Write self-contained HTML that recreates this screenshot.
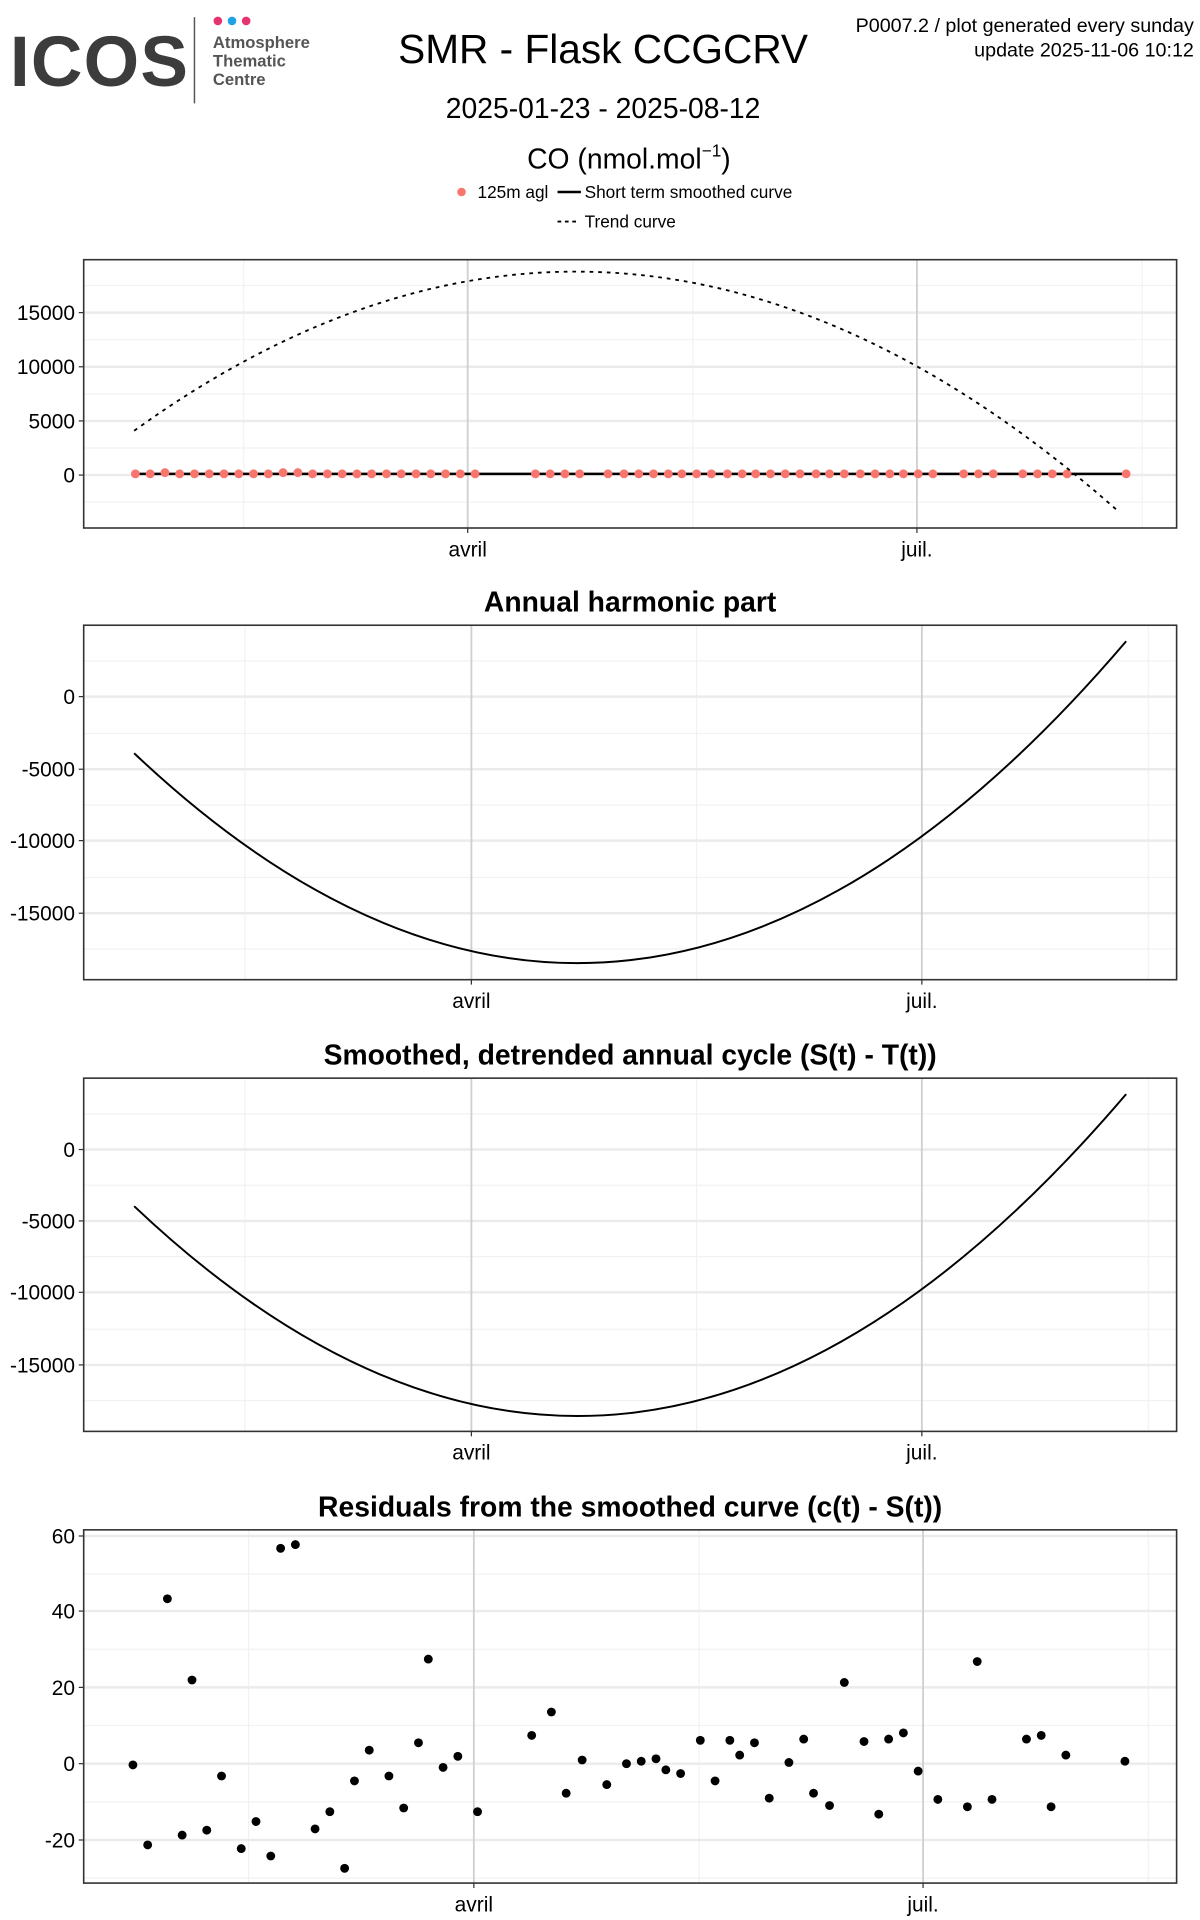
<!DOCTYPE html>
<html><head><meta charset="utf-8"><style>
html,body{margin:0;padding:0;background:#fff}
svg{display:block}
text{font-family:"Liberation Sans",Arial,sans-serif}
</style></head><body>
<svg width="1200" height="1920" viewBox="0 0 975 1560" xmlns="http://www.w3.org/2000/svg">
<!-- header -->
<text x="8" y="70" font-size="58" font-weight="bold" fill="#3c3c3c" letter-spacing="1">ICOS</text>
<line x1="158" y1="14" x2="158" y2="84" stroke="#555" stroke-width="1.2"/>
<circle cx="177" cy="17" r="3.5" fill="#e6336f"/><circle cx="188.5" cy="17" r="3.5" fill="#1fa3e6"/><circle cx="200" cy="17" r="3.5" fill="#e6336f"/>
<text x="173" y="39" font-size="13.5" font-weight="bold" fill="#555">Atmosphere</text>
<text x="173" y="54" font-size="13.5" font-weight="bold" fill="#555">Thematic</text>
<text x="173" y="69" font-size="13.5" font-weight="bold" fill="#555">Centre</text>
<text x="490" y="51" font-size="33" text-anchor="middle">SMR - Flask CCGCRV</text>
<text x="490" y="96" font-size="23" text-anchor="middle">2025-01-23 - 2025-08-12</text>
<text x="511" y="137" font-size="23" text-anchor="middle">CO (nmol.mol<tspan font-size="14" dy="-10">−1</tspan><tspan dy="10">)</tspan></text>
<text x="970" y="26" font-size="16" text-anchor="end">P0007.2 / plot generated every sunday</text>
<text x="970" y="46" font-size="16" text-anchor="end">update  2025-11-06 10:12</text>
<circle cx="375" cy="156" r="3.5" fill="#f8766d"/>
<text x="388" y="161" font-size="14">125m agl</text>
<line x1="453" y1="156" x2="472" y2="156" stroke="#000" stroke-width="2"/>
<text x="475" y="161" font-size="14">Short term smoothed curve</text>
<line x1="453" y1="180" x2="471" y2="180" stroke="#000" stroke-width="1.5" stroke-dasharray="3,3"/>
<text x="475" y="185" font-size="14">Trend curve</text>

<!-- Panel 1 -->
<g>
<rect x="68" y="211" width="888" height="218" fill="#fff"/>
<g stroke="#f2f2f2" stroke-width="1"><line x1="68" x2="956" y1="232" y2="232"/><line x1="68" x2="956" y1="276" y2="276"/><line x1="68" x2="956" y1="320" y2="320"/><line x1="68" x2="956" y1="364" y2="364"/><line x1="68" x2="956" y1="408" y2="408"/><line x1="198" x2="198" y1="211" y2="429"/><line x1="563" x2="563" y1="211" y2="429"/><line x1="928" x2="928" y1="211" y2="429"/></g>
<g stroke="#ebebeb" stroke-width="2"><line x1="68" x2="956" y1="254" y2="254"/><line x1="68" x2="956" y1="298" y2="298"/><line x1="68" x2="956" y1="342" y2="342"/><line x1="68" x2="956" y1="386" y2="386"/></g>
<g stroke="#d0d0d0" stroke-width="1.5"><line x1="380" x2="380" y1="211" y2="429"/><line x1="745" x2="745" y1="211" y2="429"/></g>
<line x1="109" y1="385" x2="915" y2="385" stroke="#000" stroke-width="2"/>
<g fill="#f8766d">
<circle cx="110" cy="385" r="3.6"/><circle cx="122" cy="385" r="3.6"/><circle cx="134" cy="384" r="3.6"/><circle cx="146" cy="385" r="3.6"/><circle cx="158" cy="385" r="3.6"/><circle cx="170" cy="385" r="3.6"/><circle cx="182" cy="385" r="3.6"/><circle cx="194" cy="385" r="3.6"/><circle cx="206" cy="385" r="3.6"/><circle cx="218" cy="385" r="3.6"/><circle cx="230" cy="384" r="3.6"/><circle cx="242" cy="384" r="3.6"/><circle cx="254" cy="385" r="3.6"/><circle cx="266" cy="385" r="3.6"/><circle cx="278" cy="385" r="3.6"/><circle cx="290" cy="385" r="3.6"/><circle cx="302" cy="385" r="3.6"/><circle cx="314" cy="385" r="3.6"/><circle cx="326" cy="385" r="3.6"/><circle cx="338" cy="385" r="3.6"/><circle cx="350" cy="385" r="3.6"/><circle cx="362" cy="385" r="3.6"/><circle cx="374" cy="385" r="3.6"/><circle cx="386" cy="385" r="3.6"/>
<circle cx="435" cy="385" r="3.6"/><circle cx="447" cy="385" r="3.6"/><circle cx="459" cy="385" r="3.6"/><circle cx="471" cy="385" r="3.6"/>
<circle cx="494" cy="385" r="3.6"/><circle cx="507" cy="385" r="3.6"/><circle cx="519" cy="385" r="3.6"/><circle cx="531" cy="385" r="3.6"/><circle cx="543" cy="385" r="3.6"/><circle cx="554" cy="385" r="3.6"/><circle cx="566" cy="385" r="3.6"/><circle cx="578" cy="385" r="3.6"/><circle cx="591" cy="385" r="3.6"/><circle cx="603" cy="385" r="3.6"/><circle cx="614" cy="385" r="3.6"/><circle cx="626" cy="385" r="3.6"/><circle cx="638" cy="385" r="3.6"/><circle cx="650" cy="385" r="3.6"/><circle cx="663" cy="385" r="3.6"/><circle cx="674" cy="385" r="3.6"/><circle cx="686" cy="385" r="3.6"/><circle cx="699" cy="385" r="3.6"/><circle cx="711" cy="385" r="3.6"/><circle cx="723" cy="385" r="3.6"/><circle cx="734" cy="385" r="3.6"/><circle cx="746" cy="385" r="3.6"/><circle cx="758" cy="385" r="3.6"/>
<circle cx="783" cy="385" r="3.6"/><circle cx="795" cy="385" r="3.6"/><circle cx="807" cy="385" r="3.6"/>
<circle cx="831" cy="385" r="3.6"/><circle cx="843" cy="385" r="3.6"/><circle cx="855" cy="385" r="3.6"/><circle cx="867" cy="385" r="3.6"/>
<circle cx="915" cy="385" r="3.6"/>
</g>
<path d="M109,350 Q508,62.6 907,414" fill="none" stroke="#000" stroke-width="1.5" stroke-dasharray="3,4"/>
<rect x="68" y="211" width="888" height="218" fill="none" stroke="#333" stroke-width="1.3"/>
<g stroke="#333"><line x1="64" x2="68" y1="254" y2="254"/><line x1="64" x2="68" y1="298" y2="298"/><line x1="64" x2="68" y1="342" y2="342"/><line x1="64" x2="68" y1="386" y2="386"/><line x1="380" x2="380" y1="429" y2="433"/><line x1="745" x2="745" y1="429" y2="433"/></g>
<g font-size="17" text-anchor="end"><text x="61" y="260">15000</text><text x="61" y="304">10000</text><text x="61" y="348">5000</text><text x="61" y="392">0</text></g>
<g font-size="17" text-anchor="middle"><text x="380" y="452">avril</text><text x="745" y="452">juil.</text></g>
</g>

<!-- Panel 2 -->
<text x="512" y="497" font-size="23" font-weight="bold" text-anchor="middle">Annual harmonic part</text>
<g stroke="#f2f2f2"><line x1="68" x2="956" y1="537" y2="537"/><line x1="68" x2="956" y1="596" y2="596"/><line x1="68" x2="956" y1="654" y2="654"/><line x1="68" x2="956" y1="713" y2="713"/><line x1="68" x2="956" y1="771" y2="771"/><line x1="199" x2="199" y1="508" y2="796"/><line x1="566" x2="566" y1="508" y2="796"/><line x1="933" x2="933" y1="508" y2="796"/></g>
<g stroke="#ebebeb" stroke-width="2"><line x1="68" x2="956" y1="566" y2="566"/><line x1="68" x2="956" y1="625" y2="625"/><line x1="68" x2="956" y1="683" y2="683"/><line x1="68" x2="956" y1="742" y2="742"/></g>
<g stroke="#d0d0d0" stroke-width="1.5"><line x1="383" x2="383" y1="508" y2="796"/><line x1="749" x2="749" y1="508" y2="796"/></g>
<path d="M109,612 Q512,993.7 915,521" fill="none" stroke="#000" stroke-width="1.6"/>
<rect x="68" y="508" width="888" height="288" fill="none" stroke="#333" stroke-width="1.3"/>
<g stroke="#333"><line x1="64" x2="68" y1="566" y2="566"/><line x1="64" x2="68" y1="625" y2="625"/><line x1="64" x2="68" y1="683" y2="683"/><line x1="64" x2="68" y1="742" y2="742"/><line x1="383" x2="383" y1="796" y2="800"/><line x1="749" x2="749" y1="796" y2="800"/></g>
<g font-size="17" text-anchor="end"><text x="61" y="572">0</text><text x="61" y="631">-5000</text><text x="61" y="689">-10000</text><text x="61" y="748">-15000</text></g>
<g font-size="17" text-anchor="middle"><text x="383" y="819">avril</text><text x="749" y="819">juil.</text></g>

<!-- Panel 3 -->
<text x="512" y="865" font-size="23" font-weight="bold" text-anchor="middle">Smoothed, detrended annual cycle (S(t) - T(t))</text>
<g stroke="#f2f2f2"><line x1="68" x2="956" y1="905" y2="905"/><line x1="68" x2="956" y1="963" y2="963"/><line x1="68" x2="956" y1="1021" y2="1021"/><line x1="68" x2="956" y1="1080" y2="1080"/><line x1="68" x2="956" y1="1138" y2="1138"/><line x1="199" x2="199" y1="876" y2="1163"/><line x1="566" x2="566" y1="876" y2="1163"/><line x1="933" x2="933" y1="876" y2="1163"/></g>
<g stroke="#ebebeb" stroke-width="2"><line x1="68" x2="956" y1="934" y2="934"/><line x1="68" x2="956" y1="992" y2="992"/><line x1="68" x2="956" y1="1050" y2="1050"/><line x1="68" x2="956" y1="1109" y2="1109"/></g>
<g stroke="#d0d0d0" stroke-width="1.5"><line x1="383" x2="383" y1="876" y2="1163"/><line x1="749" x2="749" y1="876" y2="1163"/></g>
<path d="M109,980 Q512,1361.7 915,889" fill="none" stroke="#000" stroke-width="1.6"/>
<rect x="68" y="876" width="888" height="287" fill="none" stroke="#333" stroke-width="1.3"/>
<g stroke="#333"><line x1="64" x2="68" y1="934" y2="934"/><line x1="64" x2="68" y1="992" y2="992"/><line x1="64" x2="68" y1="1050" y2="1050"/><line x1="64" x2="68" y1="1109" y2="1109"/><line x1="383" x2="383" y1="1163" y2="1167"/><line x1="749" x2="749" y1="1163" y2="1167"/></g>
<g font-size="17" text-anchor="end"><text x="61" y="940">0</text><text x="61" y="998">-5000</text><text x="61" y="1056">-10000</text><text x="61" y="1115">-15000</text></g>
<g font-size="17" text-anchor="middle"><text x="383" y="1186">avril</text><text x="749" y="1186">juil.</text></g>

<!-- Panel 4 -->
<text x="512" y="1232" font-size="23" font-weight="bold" text-anchor="middle">Residuals from the smoothed curve (c(t) - S(t))</text>
<g stroke="#f2f2f2"><line x1="68" x2="956" y1="1279" y2="1279"/><line x1="68" x2="956" y1="1340" y2="1340"/><line x1="68" x2="956" y1="1402" y2="1402"/><line x1="68" x2="956" y1="1464" y2="1464"/><line x1="68" x2="956" y1="1526" y2="1526"/><line x1="202" x2="202" y1="1243" y2="1530"/><line x1="568" x2="568" y1="1243" y2="1530"/><line x1="933" x2="933" y1="1243" y2="1530"/></g>
<g stroke="#ebebeb" stroke-width="2"><line x1="68" x2="956" y1="1248" y2="1248"/><line x1="68" x2="956" y1="1309" y2="1309"/><line x1="68" x2="956" y1="1371" y2="1371"/><line x1="68" x2="956" y1="1433" y2="1433"/><line x1="68" x2="956" y1="1495" y2="1495"/></g>
<g stroke="#d0d0d0" stroke-width="1.5"><line x1="385" x2="385" y1="1243" y2="1530"/><line x1="750" x2="750" y1="1243" y2="1530"/></g>
<g fill="#000">
<circle cx="108" cy="1434" r="3.6"/><circle cx="120" cy="1499" r="3.6"/><circle cx="136" cy="1299" r="3.6"/><circle cx="148" cy="1491" r="3.6"/><circle cx="156" cy="1365" r="3.6"/><circle cx="168" cy="1487" r="3.6"/><circle cx="180" cy="1443" r="3.6"/><circle cx="196" cy="1502" r="3.6"/><circle cx="208" cy="1480" r="3.6"/><circle cx="220" cy="1508" r="3.6"/><circle cx="228" cy="1258" r="3.6"/><circle cx="240" cy="1255" r="3.6"/><circle cx="256" cy="1486" r="3.6"/><circle cx="268" cy="1472" r="3.6"/><circle cx="280" cy="1518" r="3.6"/><circle cx="288" cy="1447" r="3.6"/><circle cx="300" cy="1422" r="3.6"/><circle cx="316" cy="1443" r="3.6"/><circle cx="328" cy="1469" r="3.6"/><circle cx="340" cy="1416" r="3.6"/><circle cx="348" cy="1348" r="3.6"/><circle cx="360" cy="1436" r="3.6"/><circle cx="372" cy="1427" r="3.6"/><circle cx="388" cy="1472" r="3.6"/><circle cx="432" cy="1410" r="3.6"/><circle cx="448" cy="1391" r="3.6"/><circle cx="460" cy="1457" r="3.6"/><circle cx="473" cy="1430" r="3.6"/><circle cx="493" cy="1450" r="3.6"/><circle cx="509" cy="1433" r="3.6"/><circle cx="521" cy="1431" r="3.6"/><circle cx="533" cy="1429" r="3.6"/><circle cx="541" cy="1438" r="3.6"/><circle cx="553" cy="1441" r="3.6"/><circle cx="569" cy="1414" r="3.6"/><circle cx="581" cy="1447" r="3.6"/><circle cx="593" cy="1414" r="3.6"/><circle cx="601" cy="1426" r="3.6"/><circle cx="613" cy="1416" r="3.6"/><circle cx="625" cy="1461" r="3.6"/><circle cx="641" cy="1432" r="3.6"/><circle cx="653" cy="1413" r="3.6"/><circle cx="661" cy="1457" r="3.6"/><circle cx="674" cy="1467" r="3.6"/><circle cx="686" cy="1367" r="3.6"/><circle cx="702" cy="1415" r="3.6"/><circle cx="714" cy="1474" r="3.6"/><circle cx="722" cy="1413" r="3.6"/><circle cx="734" cy="1408" r="3.6"/><circle cx="746" cy="1439" r="3.6"/><circle cx="762" cy="1462" r="3.6"/><circle cx="786" cy="1468" r="3.6"/><circle cx="794" cy="1350" r="3.6"/><circle cx="806" cy="1462" r="3.6"/><circle cx="834" cy="1413" r="3.6"/><circle cx="846" cy="1410" r="3.6"/><circle cx="854" cy="1468" r="3.6"/><circle cx="866" cy="1426" r="3.6"/><circle cx="914" cy="1431" r="3.6"/>
</g>
<rect x="68" y="1243" width="888" height="287" fill="none" stroke="#333" stroke-width="1.3"/>
<g stroke="#333"><line x1="64" x2="68" y1="1248" y2="1248"/><line x1="64" x2="68" y1="1309" y2="1309"/><line x1="64" x2="68" y1="1371" y2="1371"/><line x1="64" x2="68" y1="1433" y2="1433"/><line x1="64" x2="68" y1="1495" y2="1495"/><line x1="385" x2="385" y1="1530" y2="1534"/><line x1="750" x2="750" y1="1530" y2="1534"/></g>
<g font-size="17" text-anchor="end"><text x="61" y="1254">60</text><text x="61" y="1315">40</text><text x="61" y="1377">20</text><text x="61" y="1439">0</text><text x="61" y="1501">-20</text></g>
<g font-size="17" text-anchor="middle"><text x="385" y="1553">avril</text><text x="750" y="1553">juil.</text></g>
</svg>
</body></html>
